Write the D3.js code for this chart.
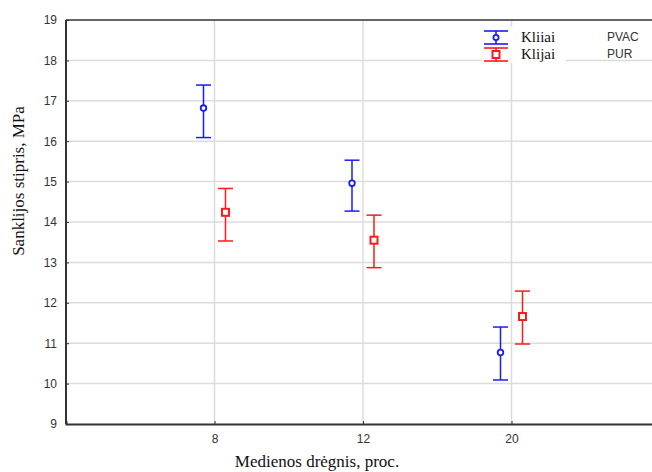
<!DOCTYPE html>
<html>
<head>
<meta charset="utf-8">
<script src="https://cdn.jsdelivr.net/npm/d3@7"></script>
<style>
  body { margin: 0; background: #fff; }
  svg { display: block; }
</style>
</head>
<body>
<div id="root"></div>
<script>
const svgWidth = 652;
const svgHeight = 472;

// moisture content categories
const categories = ["8", "12", "20"];

// PVAC glue: mean, lower, upper
const pvacMean = [16.82, 14.96, 10.77];
const pvacLow = [16.09, 14.27, 10.09];
const pvacHigh = [17.39, 15.53, 11.40];

// PUR glue
const purMean = [14.24, 13.55, 11.66];
const purLow = [13.53, 12.87, 10.98];
const purHigh = [14.83, 14.17, 12.29];

const yTicks = [9, 10, 11, 12, 13, 14, 15, 16, 17, 18, 19];

const margin = { left: 66, top: 20, right: -8, bottom: 48 };
const plotW = svgWidth - margin.left - margin.right;
const plotH = svgHeight - margin.top - margin.bottom;

const xScale = d3.scalePoint()
  .domain(["", ...categories, " "])
  .range([0, plotW]);

const yScale = d3.scaleLinear()
  .domain([9, 19])
  .range([plotH, 0]);

const svg = d3.select("#root")
  .append("svg")
  .attr("width", svgWidth)
  .attr("height", svgHeight);

const g = svg.append("g")
  .attr("transform", `translate(${margin.left},${margin.top})`);

// grid
g.selectAll(".hgrid")
  .data(yTicks.slice(1, -1))
  .join("line")
  .attr("x1", 0).attr("x2", plotW)
  .attr("y1", d => yScale(d)).attr("y2", d => yScale(d))
  .attr("stroke", "#dcdcdc").attr("stroke-width", 1.5);

g.selectAll(".vgrid")
  .data(categories)
  .join("line")
  .attr("x1", d => xScale(d)).attr("x2", d => xScale(d))
  .attr("y1", 0).attr("y2", plotH)
  .attr("stroke", "#dcdcdc").attr("stroke-width", 1.5);

// frame
g.append("line").attr("x1", 0).attr("x2", plotW).attr("y1", 0).attr("y2", 0)
  .attr("stroke", "#333").attr("stroke-width", 1.5);
g.append("line").attr("x1", 0).attr("x2", 0).attr("y1", 0).attr("y2", plotH)
  .attr("stroke", "#333").attr("stroke-width", 2);

// axes
const yAxis = g.append("g")
  .call(d3.axisLeft(yScale).tickValues(yTicks).tickSize(-3).tickPadding(9));
yAxis.select(".domain").remove();
yAxis.selectAll("line").attr("stroke", "#333");
yAxis.selectAll("text")
  .attr("font-family", "Arial, 'Liberation Sans', sans-serif")
  .attr("font-size", "12px").attr("fill", "#333");

const xAxis = g.append("g")
  .attr("transform", `translate(0,${plotH})`)
  .call(d3.axisBottom(xScale).tickValues(categories).tickSize(-3).tickPadding(10));
xAxis.select(".domain").attr("stroke", "#333").attr("stroke-width", 2);
xAxis.selectAll("line").attr("stroke", "#333");
xAxis.selectAll("text")
  .attr("font-family", "Arial, 'Liberation Sans', sans-serif")
  .attr("font-size", "12px").attr("fill", "#333");

// error bars
const series = [
  { mean: pvacMean, low: pvacLow, high: pvacHigh, color: "#1a1aff", dx: -11, shape: "circle" },
  { mean: purMean, low: purLow, high: purHigh, color: "#ff1a1a", dx: 11, shape: "square" }
];

const capW = 7.5;
series.forEach(s => {
  const sg = g.append("g");
  categories.forEach((c, i) => {
    const x = xScale(c) + s.dx;
    sg.append("line")
      .attr("x1", x).attr("x2", x)
      .attr("y1", yScale(s.low[i])).attr("y2", yScale(s.high[i]))
      .attr("stroke", s.color).attr("stroke-width", 1.5);
    [s.low[i], s.high[i]].forEach(v => {
      sg.append("line")
        .attr("x1", x - capW).attr("x2", x + capW)
        .attr("y1", yScale(v)).attr("y2", yScale(v))
        .attr("stroke", s.color).attr("stroke-width", 1.5);
    });
    if (s.shape === "circle") {
      sg.append("circle")
        .attr("cx", x).attr("cy", yScale(s.mean[i])).attr("r", 2.8)
        .attr("fill", "#fff").attr("stroke", s.color).attr("stroke-width", 1.8);
    } else {
      sg.append("rect")
        .attr("x", x - 3.5).attr("y", yScale(s.mean[i]) - 3.5)
        .attr("width", 7).attr("height", 7)
        .attr("fill", "#fff").attr("stroke", s.color).attr("stroke-width", 2);
    }
  });
});

// legend
const legend = svg.append("g");
legend.append("rect")
  .attr("x", 482).attr("y", 27).attr("width", 84).attr("height", 36)
  .attr("fill", "#fff");

const legendItems = [
  { label: "Kliiai", glue: "PVAC", color: "#1a1aff", shape: "circle", y: 37.5 },
  { label: "Klijai", glue: "PUR", color: "#ff1a1a", shape: "square", y: 54.5 }
];
legendItems.forEach(d => {
  const cx = 496;
  legend.append("line").attr("x1", cx - 12).attr("x2", cx + 12)
    .attr("y1", d.y - 6.5).attr("y2", d.y - 6.5).attr("stroke", d.color).attr("stroke-width", 1.6);
  legend.append("line").attr("x1", cx - 12).attr("x2", cx + 12)
    .attr("y1", d.y + 6.5).attr("y2", d.y + 6.5).attr("stroke", d.color).attr("stroke-width", 1.6);
  legend.append("line").attr("x1", cx).attr("x2", cx)
    .attr("y1", d.y - 6.5).attr("y2", d.y + 6.5).attr("stroke", d.color).attr("stroke-width", 1.6);
  if (d.shape === "circle") {
    legend.append("circle").attr("cx", cx).attr("cy", d.y).attr("r", 2.6)
      .attr("fill", "#fff").attr("stroke", d.color).attr("stroke-width", 1.8);
  } else {
    legend.append("rect").attr("x", cx - 3.5).attr("y", d.y - 3.5)
      .attr("width", 7).attr("height", 7)
      .attr("fill", "#fff").attr("stroke", d.color).attr("stroke-width", 2);
  }
  legend.append("text")
    .attr("x", 521).attr("y", d.y + 4.5)
    .attr("font-family", "'Liberation Serif', 'Times New Roman', serif")
    .attr("font-size", "15px").attr("fill", "#111")
    .text(d.label);
  legend.append("text")
    .attr("x", 607).attr("y", d.y + 3.5)
    .attr("font-family", "Arial, 'Liberation Sans', sans-serif")
    .attr("font-size", "12px").attr("fill", "#333")
    .text(d.glue);
});

// axis titles
svg.append("text")
  .attr("x", 317).attr("y", 467)
  .attr("text-anchor", "middle")
  .attr("font-family", "'Liberation Serif', 'Times New Roman', serif")
  .attr("font-size", "17px").attr("fill", "#111")
  .text("Medienos drėgnis, proc.");

svg.append("text")
  .attr("transform", "translate(24,181) rotate(-90)")
  .attr("text-anchor", "middle")
  .attr("font-family", "'Liberation Serif', 'Times New Roman', serif")
  .attr("font-size", "17px").attr("fill", "#111")
  .text("Sanklijos stipris, MPa");
</script>
</body>
</html>
